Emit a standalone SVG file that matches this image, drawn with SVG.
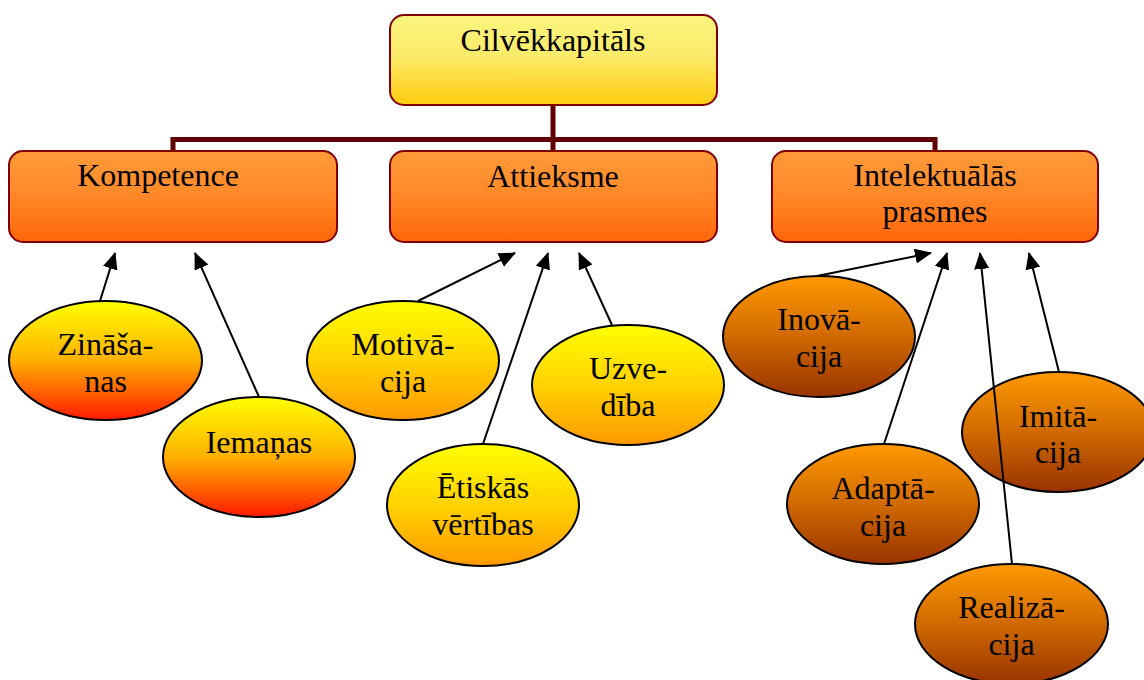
<svg xmlns="http://www.w3.org/2000/svg" width="1144" height="680" viewBox="0 0 1144 680">
<defs>
<linearGradient id="gTop" x1="0" y1="0" x2="0" y2="1"><stop offset="0" stop-color="#faf47e"/><stop offset="0.45" stop-color="#fbeb6a"/><stop offset="1" stop-color="#ffcc10"/></linearGradient>
<linearGradient id="gOr" x1="0" y1="0" x2="0" y2="1"><stop offset="0" stop-color="#ff9a38"/><stop offset="0.45" stop-color="#ff8a2a"/><stop offset="1" stop-color="#ff6608"/></linearGradient>
<linearGradient id="gYR" x1="0" y1="0" x2="0" y2="1"><stop offset="0" stop-color="#ffff00"/><stop offset="0.5" stop-color="#ffb000"/><stop offset="1" stop-color="#ff1a00"/></linearGradient>
<linearGradient id="gYO" x1="0" y1="0" x2="0" y2="1"><stop offset="0" stop-color="#ffff00"/><stop offset="0.5" stop-color="#ffd200"/><stop offset="1" stop-color="#ff9900"/></linearGradient>
<linearGradient id="gBr" x1="0" y1="0" x2="0" y2="1"><stop offset="0" stop-color="#ff9900"/><stop offset="0.5" stop-color="#d06a00"/><stop offset="1" stop-color="#993300"/></linearGradient>
<marker id="arr" viewBox="0 0 17 15" refX="16" refY="7.5" markerWidth="17" markerHeight="15" markerUnits="userSpaceOnUse" orient="auto"><path d="M0,0 L17,7.5 L0,15 z" fill="#000"/></marker>
</defs>
<style>
.box{stroke:#800000;stroke-width:2}
.ell{stroke:#000;stroke-width:2}
text{font-family:"Liberation Serif","Times New Roman",serif;font-size:32px;fill:#000;text-anchor:middle}
.tree{fill:none;stroke:#600000;stroke-width:5}
.arrow{fill:none;stroke:#000;stroke-width:2;marker-end:url(#arr)}
</style>
<g id="connectors">
<path class="tree" d="M553,105 V139.5 M173,151 V139.5 H935 V151 M553,139.5 V151"/>
</g>
<g id="n-cilvekkapitals"><rect class="box" x="390" y="15" width="327" height="90" rx="14" fill="url(#gTop)"/><text x="553" y="51">Cilvēkkapitāls</text></g>
<g id="n-kompetence"><rect class="box" x="9" y="151" width="328" height="91" rx="14" fill="url(#gOr)"/><text x="158" y="186">Kompetence</text></g>
<g id="n-attieksme"><rect class="box" x="390" y="151" width="327" height="91" rx="14" fill="url(#gOr)"/><text x="553" y="187">Attieksme</text></g>
<g id="n-intelektualas"><rect class="box" x="772" y="151" width="326" height="91" rx="14" fill="url(#gOr)"/><text x="935" y="186">Intelektuālās</text><text x="935" y="222">prasmes</text></g>
<g id="n-zinasanas"><ellipse class="ell" cx="105.5" cy="360.5" rx="96.5" ry="59.5" fill="url(#gYR)"/><text x="105.5" y="355">Zināša-</text><text x="105.5" y="392">nas</text></g>
<g id="n-iemanas"><ellipse class="ell" cx="259" cy="457" rx="96" ry="60" fill="url(#gYR)"/><text x="259" y="453">Iemaņas</text></g>
<g id="n-motivacija"><ellipse class="ell" cx="403" cy="360.5" rx="96" ry="59.5" fill="url(#gYO)"/><text x="403" y="355">Motivā-</text><text x="403" y="392">cija</text></g>
<g id="n-etiskas"><ellipse class="ell" cx="483" cy="505" rx="96" ry="61" fill="url(#gYO)"/><text x="483" y="498">Ētiskās</text><text x="483" y="535">vērtības</text></g>
<g id="n-uzvediba"><ellipse class="ell" cx="628" cy="385" rx="96" ry="60" fill="url(#gYO)"/><text x="628" y="379">Uzve-</text><text x="628" y="416">dība</text></g>
<g id="n-inovacija"><ellipse class="ell" cx="819" cy="336.5" rx="96" ry="60.5" fill="url(#gBr)"/><text x="819" y="330">Inovā-</text><text x="819" y="367">cija</text></g>
<g id="n-imitacija"><ellipse class="ell" cx="1058" cy="432" rx="96" ry="60" fill="url(#gBr)"/><text x="1058" y="427">Imitā-</text><text x="1058" y="463">cija</text></g>
<g id="n-adaptacija"><ellipse class="ell" cx="883" cy="504" rx="96" ry="60" fill="url(#gBr)"/><text x="883" y="499">Adaptā-</text><text x="883" y="536">cija</text></g>
<g id="n-realizacija"><ellipse class="ell" cx="1011.5" cy="624" rx="96.5" ry="60" fill="url(#gBr)"/><text x="1011.5" y="618">Realizā-</text><text x="1011.5" y="655">cija</text></g>
<g id="arrows">
<line class="arrow" x1="100" y1="301" x2="115" y2="253"/>
<line class="arrow" x1="259" y1="397" x2="195" y2="253"/>
<line class="arrow" x1="418" y1="301" x2="515" y2="253"/>
<line class="arrow" x1="483" y1="444" x2="548" y2="253"/>
<line class="arrow" x1="612" y1="325" x2="579" y2="253"/>
<line class="arrow" x1="817" y1="276" x2="931" y2="253"/>
<line class="arrow" x1="884" y1="444" x2="947" y2="253"/>
<line class="arrow" x1="1012" y1="564" x2="980" y2="253"/>
<line class="arrow" x1="1059" y1="372" x2="1029" y2="253"/>
</g>
</svg>
